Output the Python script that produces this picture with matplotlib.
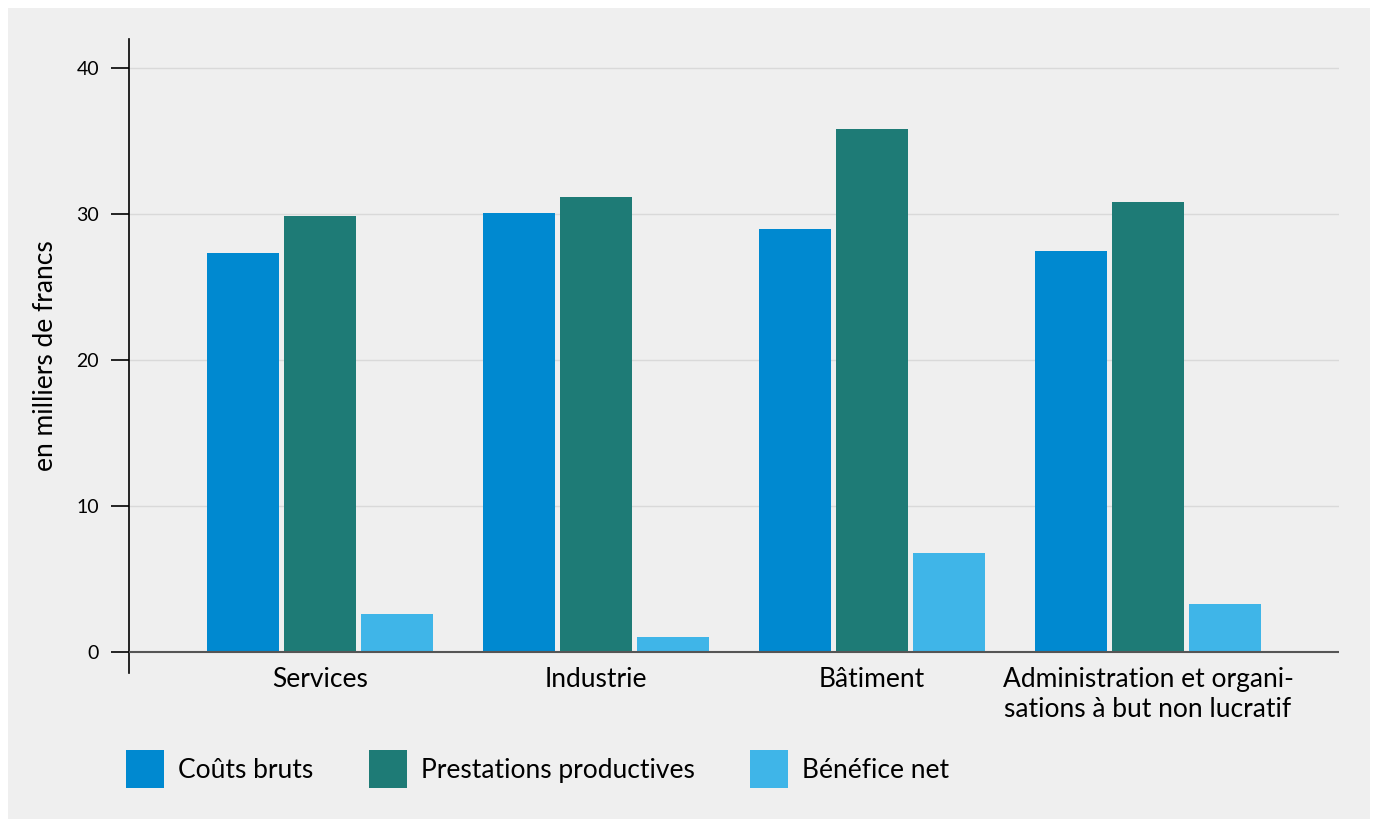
import numpy as np
import matplotlib.pyplot as plt
from matplotlib.patches import Rectangle, Patch

plt.rcParams['font.family'] = ['Lato', 'DejaVu Sans']

# Kosten und Nutzen pro Lernende/r, in Tausend Franken
branches = ['Services', 'Industrie', 'Bâtiment',
            'Administration et organi-\nsations à but non lucratif']
couts_bruts = [27.3, 30.1, 29.0, 27.5]
prestations = [29.9, 31.2, 35.8, 30.8]
benefice = [2.6, 1.0, 6.8, 3.3]
yticks = [0, 10, 20, 30, 40]

series = [
    ('Coûts bruts', couts_bruts, '#0089d0'),
    ('Prestations productives', prestations, '#1e7b76'),
    ('Bénéfice net', benefice, '#3fb5e8'),
]

fig = plt.figure(figsize=(13.75, 8.19), dpi=100)
fig.patch.set_facecolor('white')
# grauer Hintergrund mit weissem Rand
fig.patches.append(Rectangle((8 / 1375, 0), 1362 / 1375, 811 / 819,
                             transform=fig.transFigure, facecolor='#efefef',
                             edgecolor='none', zorder=-10))

ax = fig.add_axes([0.0938, 0.1783, 0.88, 0.7741])
ax.set_facecolor('none')

x = np.arange(len(branches))
width = 0.263
step = 0.279
for i, (label, vals, col) in enumerate(series):
    ax.bar(x + (i - 1) * step, vals, width, color=col, label=label, zorder=3)

ax.set_xlim(-0.692, 3.692)
ax.set_ylim(-1.45, 42)
ax.set_yticks(yticks)
ax.set_yticklabels([str(t) for t in yticks], fontsize=14)
ax.set_xticks(x)
ax.set_xticklabels(branches, fontsize=19, linespacing=1.25)
ax.tick_params(axis='x', length=0, pad=-4)
ax.tick_params(axis='y', length=13, width=1.2, pad=8.5, color='black')

for t in yticks[1:]:
    ax.axhline(t, color='#d9d9d9', lw=1, zorder=1)
ax.axhline(0, color='#555555', lw=1.5, zorder=4)

for s in ['top', 'right', 'bottom']:
    ax.spines[s].set_visible(False)
ax.spines['left'].set_linewidth(1.2)

ax.set_ylabel('en milliers de francs', fontsize=19, labelpad=13)

handles = [Patch(facecolor=c, label=l) for l, _, c in series]
fig.legend(handles=handles, loc='center left', bbox_to_anchor=(126 / 1375, 0.061),
           ncol=3, frameon=False, fontsize=19, handlelength=1.44,
           handleheight=1.84, handletextpad=0.53, columnspacing=2.1,
           borderpad=0, borderaxespad=0)

fig.savefig('out.png', dpi=100)
